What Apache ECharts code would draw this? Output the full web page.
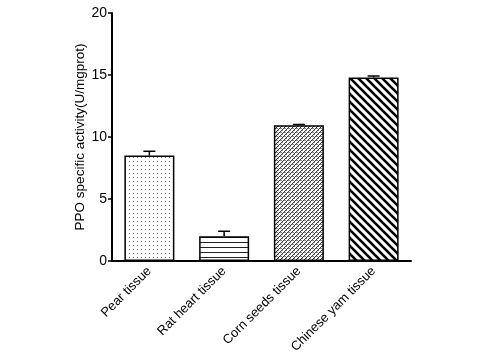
<!DOCTYPE html>
<html><head><meta charset="utf-8">
<script src="https://cdn.jsdelivr.net/npm/echarts@6/dist/echarts.min.js"></script>
<style>html,body{margin:0;padding:0;background:#fff}#c{width:480px;height:360px}</style>
</head><body><div id="c"></div>
<script>
var categories = ['Pear tissue', 'Rat heart tissue', 'Corn seeds tissue', 'Chinese yam tissue'];
var values = [8.5, 2.0, 10.95, 14.8];
var errors = [0.35, 0.4, 0.06, 0.12];
var yTicks = [0, 5, 10, 15, 20];

function mk(w, h, draw) {
  var c = document.createElement('canvas'); c.width = w; c.height = h;
  var g = c.getContext('2d'); g.fillStyle = '#fff'; g.fillRect(0, 0, w, h); draw(g, w, h); return c;
}
var patDots = mk(4, 4, function (g) { g.fillStyle = '#777'; g.fillRect(1, 1, 1, 1); });
var patH = mk(4, 5, function (g) { g.fillStyle = '#222'; g.fillRect(0, 2, 4, 1); });
var patCross = mk(4, 4, function (g) {
  g.fillStyle = '#333';
  for (var i = 0; i < 4; i++) { g.fillRect(i, 3 - i, 1, 1); }
  g.fillStyle = '#888';
  g.fillRect(0, 0, 1, 1); g.fillRect(2, 2, 1, 1); g.fillRect(1, 0, 1, 1);
});
var patDiag = mk(8, 8, function (g) {
  g.strokeStyle = '#000'; g.lineWidth = 2.6;
  for (var k = -2; k <= 2; k++) {
    g.beginPath(); g.moveTo(k * 8 - 8, -8); g.lineTo(k * 8 + 16, 16); g.stroke();
  }
});
var pats = [patDots, patH, patCross, patDiag];

var chart = echarts.init(document.getElementById('c'));
chart.setOption({
  animation: false,
  grid: { left: 112, top: 13, width: 299, height: 248 },
  xAxis: {
    type: 'category', data: categories,
    axisLine: { lineStyle: { color: '#000', width: 2 } },
    axisTick: { alignWithLabel: true, length: 4, lineStyle: { color: '#000', width: 1.5 } },
    axisLabel: { rotate: 45, color: '#000', fontFamily: 'Liberation Sans', fontSize: 13, margin: 8 }
  },
  yAxis: {
    type: 'value', min: 0, max: 20, interval: 5,
    name: 'PPO specific activity(U/mgprot)', nameLocation: 'middle', nameGap: 25,
    nameMoveOverlap: false,
    nameTextStyle: { color: '#000', fontFamily: 'Liberation Sans', fontSize: 13.5 },
    axisLine: { show: true, lineStyle: { color: '#000', width: 2 } },
    axisTick: { show: true, length: 4, lineStyle: { color: '#000', width: 1.5 } },
    axisLabel: { color: '#000', fontFamily: 'Liberation Sans', fontSize: 14, margin: 5,
      formatter: function (v) { return yTicks.indexOf(v) >= 0 ? String(v) : ''; } },
    splitLine: { show: false }
  },
  series: [{
    type: 'bar', barWidth: 50,
    data: values.map(function (v, i) {
      return { value: v, itemStyle: { color: { image: pats[i], repeat: 'repeat' }, borderColor: '#000', borderWidth: 1.5 } };
    })
  }, {
    type: 'custom',
    data: values.map(function (v, i) { return [i, v, v + errors[i]]; }),
    renderItem: function (params, api) {
      var b = api.coord([api.value(0), api.value(1)]);
      var t = api.coord([api.value(0), api.value(2)]);
      var st = { stroke: '#000', lineWidth: 1.5 };
      return { type: 'group', children: [
        { type: 'line', shape: { x1: b[0], y1: b[1], x2: t[0], y2: t[1] }, style: st },
        { type: 'line', shape: { x1: t[0] - 6, y1: t[1], x2: t[0] + 6, y2: t[1] }, style: st }
      ] };
    },
    z: 5
  }]
});
</script></body></html>
